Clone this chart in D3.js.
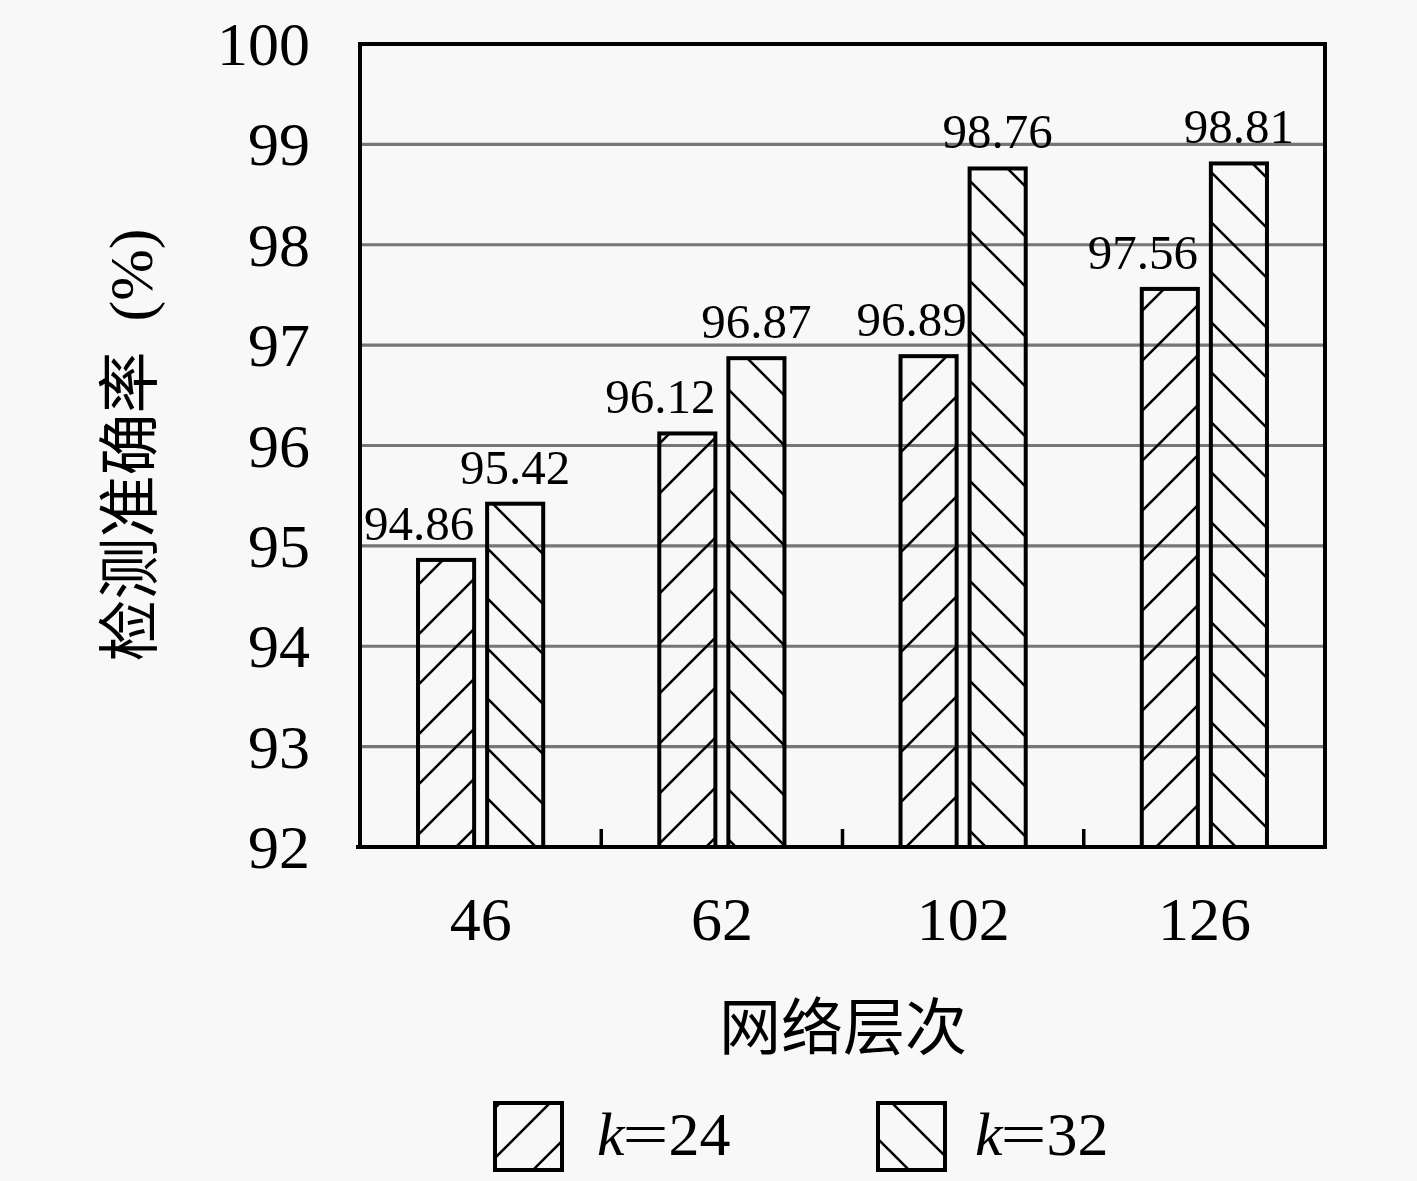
<!DOCTYPE html>
<html>
<head>
<meta charset="utf-8">
<script src="https://cdn.jsdelivr.net/npm/d3@7"></script>
<style>
  html, body { margin: 0; padding: 0; background: #f8f8f8; }
  svg { display: block; }
</style>
</head>
<body>
<svg id="chart" width="1417" height="1181"></svg>
<script>
// ---- data ----
const categories = ["46", "62", "102", "126"];
const seriesNames = ["k=24", "k=32"];
const seriesK24 = [94.86, 96.12, 96.89, 97.56];
const seriesK32 = [95.42, 96.87, 98.76, 98.81];
const yTickValues = [92, 93, 94, 95, 96, 97, 98, 99, 100];
const yTitle = "检测准确率";
const yTitleUnit = "(%)";
const xTitle = "网络层次";

// ---- layout ----
const W = 1417, H = 1181;
const plot = { left: 360, right: 1325, top: 44, bottom: 847 };
const serif = "'Liberation Serif', 'Times New Roman', serif";
const cjk = "'Noto Sans CJK SC', sans-serif";

const svg = d3.select("#chart");
svg.append("rect").attr("width", W).attr("height", H).attr("fill", "#f8f8f8");

const defs = svg.append("defs");
function hatch(id, d, ox) {
  const p = defs.append("pattern")
    .attr("id", id)
    .attr("patternUnits", "userSpaceOnUse")
    .attr("width", 50).attr("height", 50)
    .attr("x", ox).attr("y", 0);
  p.append("path").attr("d", d)
    .attr("stroke", "#000").attr("stroke-width", 2.6).attr("fill", "none");
}
hatch("hatchF", "M-10,10 L10,-10 M0,50 L50,0 M40,60 L60,40", 3);
hatch("hatchB", "M-10,40 L10,60 M0,0 L50,50 M40,-10 L60,10", 39);
const fills = ["url(#hatchF)", "url(#hatchB)"];

const x = d3.scaleBand().domain(categories).range([plot.left, plot.right]).paddingInner(0).paddingOuter(0);
const xs = d3.scaleBand().domain(seriesNames).range([0, x.bandwidth()]).paddingInner(0.188).paddingOuter(0.84);
const y = d3.scaleLinear().domain([92, 100]).range([plot.bottom, plot.top]);

// gridlines
svg.append("g").selectAll("line")
  .data(yTickValues.filter(v => v > 92 && v < 100))
  .join("line")
  .attr("x1", plot.left).attr("x2", plot.right)
  .attr("y1", d => y(d)).attr("y2", d => y(d))
  .attr("stroke", "#767676").attr("stroke-width", 3.2);

// bars
const series = [seriesK24, seriesK32];
const barData = [];
categories.forEach((c, i) => {
  seriesNames.forEach((s, j) => barData.push({ c, s, j, v: series[j][i] }));
});

svg.append("g").selectAll("rect")
  .data(barData)
  .join("rect")
  .attr("x", d => x(d.c) + xs(d.s))
  .attr("y", d => y(d.v))
  .attr("width", xs.bandwidth())
  .attr("height", d => y(92) - y(d.v))
  .attr("fill", d => fills[d.j])
  .attr("stroke", "#000").attr("stroke-width", 4);

// value labels
svg.append("g").selectAll("text")
  .data(barData)
  .join("text")
  .attr("x", d => d.j === 0 ? x(d.c) + xs(d.s) + xs.bandwidth() + (d.v > 96.5 && d.v < 97 ? 10 : 0) : x(d.c) + xs(d.s) + xs.bandwidth() / 2)
  .attr("y", d => y(d.v) - 20)
  .attr("text-anchor", d => d.j === 0 ? "end" : "middle")
  .attr("font-family", serif).attr("font-size", 49).attr("fill", "#000")
  .text(d => d.v.toFixed(2));

// frame
svg.append("rect")
  .attr("x", plot.left).attr("y", plot.top)
  .attr("width", plot.right - plot.left).attr("height", plot.bottom - plot.top)
  .attr("fill", "none").attr("stroke", "#000").attr("stroke-width", 4);
svg.append("line")
  .attr("x1", plot.left - 4).attr("x2", plot.left)
  .attr("y1", plot.bottom).attr("y2", plot.bottom)
  .attr("stroke", "#000").attr("stroke-width", 4);

// category separator ticks
svg.append("g").selectAll("line")
  .data(categories.slice(1))
  .join("line")
  .attr("x1", d => x(d)).attr("x2", d => x(d))
  .attr("y1", plot.bottom).attr("y2", plot.bottom - 18)
  .attr("stroke", "#000").attr("stroke-width", 3.5);

// y tick labels
svg.append("g").selectAll("text")
  .data(yTickValues)
  .join("text")
  .attr("x", 310).attr("y", d => y(d))
  .attr("dy", "0.34em")
  .attr("text-anchor", "end")
  .attr("font-family", serif).attr("font-size", 62).attr("fill", "#000")
  .text(d => d);

// x tick labels
svg.append("g").selectAll("text")
  .data(categories)
  .join("text")
  .attr("x", d => x(d) + x.bandwidth() / 2)
  .attr("y", 940)
  .attr("text-anchor", "middle")
  .attr("font-family", serif).attr("font-size", 62).attr("fill", "#000")
  .text(d => d);

// x title
svg.append("text")
  .attr("x", 843).attr("y", 1050)
  .attr("text-anchor", "middle")
  .attr("font-family", cjk).attr("font-size", 62).attr("fill", "#000")
  .text(xTitle);

// y title
const yt = svg.append("text")
  .attr("transform", "translate(152,445) rotate(-90)")
  .attr("text-anchor", "middle")
  .attr("fill", "#000");
yt.append("tspan").attr("font-family", cjk).attr("font-size", 62).text(yTitle);
yt.append("tspan").attr("font-family", serif).attr("font-size", 62).attr("dx", 30).text(yTitleUnit);

// legend
const legendItems = [
  { name: seriesNames[0], fill: fills[0], bx: 495, tx: 597 },
  { name: seriesNames[1], fill: fills[1], bx: 878, tx: 975 }
];
const lg = svg.append("g");
legendItems.forEach(it => {
  lg.append("rect")
    .attr("x", it.bx).attr("y", 1103).attr("width", 67).attr("height", 67)
    .attr("fill", it.fill).attr("stroke", "#000").attr("stroke-width", 4);
  const t = lg.append("text")
    .attr("x", it.tx).attr("y", 1155)
    .attr("font-family", serif).attr("font-size", 62).attr("fill", "#000");
  const parts = it.name.split("=");
  t.append("tspan").attr("font-style", "italic").text(parts[0]);
  t.append("tspan").attr("dx", -2).attr("textLength", 46).attr("lengthAdjust", "spacingAndGlyphs").text("=");
  t.append("tspan").text(parts[1]);
});
</script>
</body>
</html>
